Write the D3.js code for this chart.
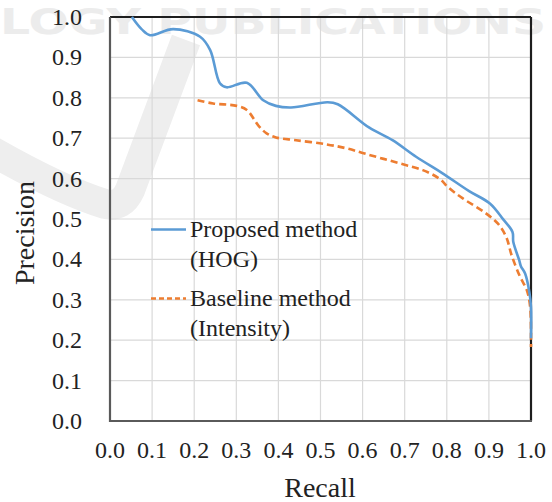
<!DOCTYPE html>
<html>
<head>
<meta charset="utf-8">
<script src="https://cdn.jsdelivr.net/npm/d3@7/dist/d3.min.js"></script>
<style>
  body { margin: 0; background: #fff; }
</style>
</head>
<body>
<div id="chart"></div>
<script>
// recall / precision points
var hogRecall = [0.052, 0.075, 0.095, 0.15, 0.214, 0.238, 0.261, 0.277, 0.325, 0.364, 0.394, 0.43, 0.517, 0.541, 0.616, 0.671, 0.727, 0.79, 0.853, 0.903, 0.934, 0.956, 0.958, 0.972, 0.976, 0.986, 0.996, 1.0, 1.0];
var hogPrecision = [1.0, 0.97, 0.955, 0.97, 0.951, 0.918, 0.836, 0.826, 0.837, 0.794, 0.78, 0.776, 0.789, 0.784, 0.726, 0.695, 0.654, 0.613, 0.569, 0.538, 0.499, 0.468, 0.443, 0.398, 0.383, 0.365, 0.32, 0.282, 0.205];

var baseRecall = [0.208, 0.245, 0.301, 0.325, 0.352, 0.372, 0.394, 0.442, 0.513, 0.561, 0.608, 0.687, 0.743, 0.782, 0.806, 0.838, 0.893, 0.921, 0.941, 0.954, 0.974, 0.99, 0.998, 1.0];
var basePrecision = [0.794, 0.786, 0.78, 0.77, 0.732, 0.712, 0.702, 0.695, 0.685, 0.675, 0.661, 0.638, 0.621, 0.6, 0.576, 0.551, 0.514, 0.489, 0.456, 0.41, 0.357, 0.324, 0.282, 0.183];

var tickValues = d3.range(0, 11).map(function(i){ return i / 10; });
var seriesNames = [["Proposed method", "(HOG)"], ["Baseline method", "(Intensity)"]];

(function pr_chart() {
  var width = 552, height = 502;
  var pLeft = 110, pRight = 531, pTop = 17, pBottom = 421;
  var serif = "Liberation Serif, Times New Roman, serif";

  var svg = d3.select("#chart").append("svg")
    .attr("width", width)
    .attr("height", height);

  // faint publisher watermark behind the chart
  svg.append("path")
    .attr("d", "M-10,150 Q60,190 105,204 Q122,208 130,190 L186,40")
    .attr("fill", "none")
    .attr("stroke", "#eeeeee")
    .attr("stroke-width", 30);
  svg.append("text")
    .attr("x", 0).attr("y", 34)
    .attr("fill", "#ececec")
    .attr("font-family", "DejaVu Sans, sans-serif")
    .attr("font-weight", "bold")
    .attr("font-size", 36)
    .attr("textLength", 546)
    .attr("lengthAdjust", "spacingAndGlyphs")
    .text("LOGY PUBLICATIONS");

  var x = d3.scaleLinear().domain([0, 1]).range([pLeft, pRight]);
  var y = d3.scaleLinear().domain([0, 1]).range([pBottom, pTop]);

  // grid
  svg.append("g").selectAll("line")
    .data(tickValues.slice(1, -1))
    .enter().append("line")
    .attr("x1", function(d){ return x(d); })
    .attr("x2", function(d){ return x(d); })
    .attr("y1", pTop).attr("y2", pBottom)
    .attr("stroke", "#d9d9d9").attr("stroke-width", 1.2);

  svg.append("g").selectAll("line")
    .data(tickValues.slice(1, -1))
    .enter().append("line")
    .attr("y1", function(d){ return y(d); })
    .attr("y2", function(d){ return y(d); })
    .attr("x1", pLeft).attr("x2", pRight)
    .attr("stroke", "#d9d9d9").attr("stroke-width", 1.2);

  // frame
  svg.append("line").attr("x1", pLeft).attr("x2", pRight).attr("y1", pTop).attr("y2", pTop)
    .attr("stroke", "#1e1e1e").attr("stroke-width", 2);
  svg.append("line").attr("x1", pRight).attr("x2", pRight).attr("y1", pTop).attr("y2", pBottom)
    .attr("stroke", "#1e1e1e").attr("stroke-width", 2.2);
  svg.append("line").attr("x1", pLeft).attr("x2", pLeft).attr("y1", pTop).attr("y2", pBottom + 1)
    .attr("stroke", "#5a5a5a").attr("stroke-width", 2.2);
  svg.append("line").attr("x1", pLeft).attr("x2", pRight + 1).attr("y1", pBottom).attr("y2", pBottom)
    .attr("stroke", "#5a5a5a").attr("stroke-width", 2.2);

  // tick labels
  var fmt = d3.format(".1f");
  svg.append("g").selectAll("text")
    .data(tickValues)
    .enter().append("text")
    .attr("x", 82)
    .attr("y", function(d){ return y(d) + 8; })
    .attr("text-anchor", "end")
    .attr("font-family", serif).attr("font-size", 24).attr("fill", "#222")
    .text(fmt);

  svg.append("g").selectAll("text")
    .data(tickValues)
    .enter().append("text")
    .attr("x", function(d){ return x(d); })
    .attr("y", 458)
    .attr("text-anchor", "middle")
    .attr("font-family", serif).attr("font-size", 24).attr("fill", "#222")
    .text(fmt);

  svg.append("text")
    .attr("x", 320).attr("y", 497)
    .attr("text-anchor", "middle")
    .attr("font-family", serif).attr("font-size", 28).attr("fill", "#222")
    .text("Recall");

  svg.append("text")
    .attr("transform", "translate(34,233) rotate(-90)")
    .attr("text-anchor", "middle")
    .attr("font-family", serif).attr("font-size", 28).attr("fill", "#222")
    .text("Precision");

  // curves
  var line = d3.line()
    .x(function(d){ return x(d[0]); })
    .y(function(d){ return y(d[1]); })
    .curve(d3.curveCatmullRom.alpha(0.5));

  svg.append("path")
    .datum(d3.zip(baseRecall, basePrecision))
    .attr("d", line)
    .attr("fill", "none")
    .attr("stroke", "#ed7d31")
    .attr("stroke-width", 2.6)
    .attr("stroke-dasharray", "7,4");

  svg.append("path")
    .datum(d3.zip(hogRecall, hogPrecision))
    .attr("d", line)
    .attr("fill", "none")
    .attr("stroke", "#5b9bd5")
    .attr("stroke-width", 2.6);

  // legend
  var legendY = [229.5, 298.5];
  var legendStyle = [{ color: "#5b9bd5", dash: null }, { color: "#ed7d31", dash: "5,3" }];
  seriesNames.forEach(function(names, i){
    svg.append("line")
      .attr("x1", 151).attr("x2", 186)
      .attr("y1", legendY[i]).attr("y2", legendY[i])
      .attr("stroke", legendStyle[i].color)
      .attr("stroke-width", 2.6)
      .attr("stroke-dasharray", legendStyle[i].dash);
    names.forEach(function(t, j){
      svg.append("text")
        .attr("x", 190)
        .attr("y", legendY[i] + 7.5 + j * 30)
        .attr("font-family", serif).attr("font-size", 24).attr("fill", "#222")
        .text(t);
    });
  });
})();
</script>
</body>
</html>
